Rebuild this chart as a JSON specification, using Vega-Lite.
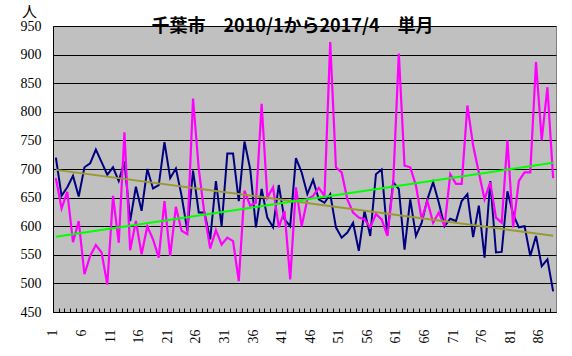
{
  "$schema": "https://vega.github.io/schema/vega-lite/v6.json",
  "width": 503,
  "height": 286,
  "autosize": "none",
  "padding": {"left": 53, "top": 26, "right": 16, "bottom": 44},
  "background": "white",
  "title": {
    "text": "千葉市　2010/1から2017/4　単月",
    "font": "Noto Sans CJK JP",
    "fontSize": 18,
    "fontWeight": "bold",
    "color": "black",
    "anchor": "middle",
    "frame": "group",
    "baseline": "middle",
    "offset": -41,
    "dy": 0,
    "dx": -12
  },
  "data": {
    "values": [
      {"i":1,"s":"A","v":720},{"i":2,"s":"A","v":653},{"i":3,"s":"A","v":668},{"i":4,"s":"A","v":688},{"i":5,"s":"A","v":652},
      {"i":6,"s":"A","v":703},{"i":7,"s":"A","v":710},{"i":8,"s":"A","v":734},{"i":9,"s":"A","v":712},{"i":10,"s":"A","v":690},
      {"i":11,"s":"A","v":703},{"i":12,"s":"A","v":679},{"i":13,"s":"A","v":713},{"i":14,"s":"A","v":609},{"i":15,"s":"A","v":669},
      {"i":16,"s":"A","v":627},{"i":17,"s":"A","v":700},{"i":18,"s":"A","v":666},{"i":19,"s":"A","v":672},{"i":20,"s":"A","v":747},
      {"i":21,"s":"A","v":684},{"i":22,"s":"A","v":701},{"i":23,"s":"A","v":653},{"i":24,"s":"A","v":592},{"i":25,"s":"A","v":697},
      {"i":26,"s":"A","v":624},{"i":27,"s":"A","v":624},{"i":28,"s":"A","v":577},{"i":29,"s":"A","v":679},{"i":30,"s":"A","v":600},
      {"i":31,"s":"A","v":727},{"i":32,"s":"A","v":727},{"i":33,"s":"A","v":644},{"i":34,"s":"A","v":748},{"i":35,"s":"A","v":700},
      {"i":36,"s":"A","v":598},{"i":37,"s":"A","v":665},{"i":38,"s":"A","v":615},{"i":39,"s":"A","v":598},{"i":40,"s":"A","v":672},
      {"i":41,"s":"A","v":612},{"i":42,"s":"A","v":600},{"i":43,"s":"A","v":719},{"i":44,"s":"A","v":694},{"i":45,"s":"A","v":656},
      {"i":46,"s":"A","v":681},{"i":47,"s":"A","v":647},{"i":48,"s":"A","v":641},{"i":49,"s":"A","v":656},{"i":50,"s":"A","v":598},
      {"i":51,"s":"A","v":580},{"i":52,"s":"A","v":589},{"i":53,"s":"A","v":606},{"i":54,"s":"A","v":557},{"i":55,"s":"A","v":627},
      {"i":56,"s":"A","v":583},{"i":57,"s":"A","v":691},{"i":58,"s":"A","v":699},{"i":59,"s":"A","v":585},{"i":60,"s":"A","v":677},
      {"i":61,"s":"A","v":665},{"i":62,"s":"A","v":559},{"i":63,"s":"A","v":647},{"i":64,"s":"A","v":583},{"i":65,"s":"A","v":606},
      {"i":66,"s":"A","v":647},{"i":67,"s":"A","v":677},{"i":68,"s":"A","v":641},{"i":69,"s":"A","v":600},{"i":70,"s":"A","v":613},
      {"i":71,"s":"A","v":609},{"i":72,"s":"A","v":644},{"i":73,"s":"A","v":656},{"i":74,"s":"A","v":581},{"i":75,"s":"A","v":636},
      {"i":76,"s":"A","v":545},{"i":77,"s":"A","v":679},{"i":78,"s":"A","v":554},{"i":79,"s":"A","v":555},{"i":80,"s":"A","v":661},
      {"i":81,"s":"A","v":621},{"i":82,"s":"A","v":598},{"i":83,"s":"A","v":600},{"i":84,"s":"A","v":548},{"i":85,"s":"A","v":583},
      {"i":86,"s":"A","v":530},{"i":87,"s":"A","v":542},{"i":88,"s":"A","v":486},
      {"i":1,"s":"B","v":684},{"i":2,"s":"B","v":631},{"i":3,"s":"B","v":660},{"i":4,"s":"B","v":572},{"i":5,"s":"B","v":609},
      {"i":6,"s":"B","v":516},{"i":7,"s":"B","v":548},{"i":8,"s":"B","v":567},{"i":9,"s":"B","v":554},{"i":10,"s":"B","v":498},
      {"i":11,"s":"B","v":653},{"i":12,"s":"B","v":571},{"i":13,"s":"B","v":764},{"i":14,"s":"B","v":558},{"i":15,"s":"B","v":609},
      {"i":16,"s":"B","v":551},{"i":17,"s":"B","v":600},{"i":18,"s":"B","v":577},{"i":19,"s":"B","v":545},{"i":20,"s":"B","v":644},
      {"i":21,"s":"B","v":548},{"i":22,"s":"B","v":634},{"i":23,"s":"B","v":592},{"i":24,"s":"B","v":586},{"i":25,"s":"B","v":823},
      {"i":26,"s":"B","v":700},{"i":27,"s":"B","v":621},{"i":28,"s":"B","v":561},{"i":29,"s":"B","v":593},{"i":30,"s":"B","v":568},
      {"i":31,"s":"B","v":580},{"i":32,"s":"B","v":574},{"i":33,"s":"B","v":504},{"i":34,"s":"B","v":662},{"i":35,"s":"B","v":636},
      {"i":36,"s":"B","v":641},{"i":37,"s":"B","v":814},{"i":38,"s":"B","v":650},{"i":39,"s":"B","v":668},{"i":40,"s":"B","v":598},
      {"i":41,"s":"B","v":627},{"i":42,"s":"B","v":507},{"i":43,"s":"B","v":668},{"i":44,"s":"B","v":600},{"i":45,"s":"B","v":647},
      {"i":46,"s":"B","v":653},{"i":47,"s":"B","v":667},{"i":48,"s":"B","v":653},{"i":49,"s":"B","v":922},{"i":50,"s":"B","v":703},
      {"i":51,"s":"B","v":694},{"i":52,"s":"B","v":647},{"i":53,"s":"B","v":624},{"i":54,"s":"B","v":615},{"i":55,"s":"B","v":612},
      {"i":56,"s":"B","v":598},{"i":57,"s":"B","v":621},{"i":58,"s":"B","v":612},{"i":59,"s":"B","v":583},{"i":60,"s":"B","v":671},
      {"i":61,"s":"B","v":902},{"i":62,"s":"B","v":706},{"i":63,"s":"B","v":703},{"i":64,"s":"B","v":671},{"i":65,"s":"B","v":612},
      {"i":66,"s":"B","v":644},{"i":67,"s":"B","v":606},{"i":68,"s":"B","v":624},{"i":69,"s":"B","v":600},{"i":70,"s":"B","v":691},
      {"i":71,"s":"B","v":674},{"i":72,"s":"B","v":674},{"i":73,"s":"B","v":811},{"i":74,"s":"B","v":741},{"i":75,"s":"B","v":694},
      {"i":76,"s":"B","v":647},{"i":77,"s":"B","v":677},{"i":78,"s":"B","v":615},{"i":79,"s":"B","v":606},{"i":80,"s":"B","v":750},
      {"i":81,"s":"B","v":598},{"i":82,"s":"B","v":679},{"i":83,"s":"B","v":694},{"i":84,"s":"B","v":694},{"i":85,"s":"B","v":887},
      {"i":86,"s":"B","v":750},{"i":87,"s":"B","v":843},{"i":88,"s":"B","v":684}
    ]
  },
  "encoding": {
    "x": {
      "field": "i",
      "type": "quantitative",
      "scale": {"domain": [0.5, 88.5], "nice": false, "zero": false},
      "axis": {
        "title": null,
        "values": [1,2,3,4,5,6,7,8,9,10,11,12,13,14,15,16,17,18,19,20,21,22,23,24,25,26,27,28,29,30,31,32,33,34,35,36,37,38,39,40,41,42,43,44,45,46,47,48,49,50,51,52,53,54,55,56,57,58,59,60,61,62,63,64,65,66,67,68,69,70,71,72,73,74,75,76,77,78,79,80,81,82,83,84,85,86,87,88],
        "labelExpr": "(datum.value - 1) % 5 == 0 ? datum.label : ''",
        "labelAngle": -90,
        "labelAlign": "right",
        "labelBaseline": "middle",
        "labelFont": "Liberation Serif",
        "labelFontSize": 14,
        "labelColor": "black",
        "labelPadding": 21,
        "labelOverlap": false,
        "labelFlush": false,
        "grid": false,
        "ticks": true,
        "tickSize": -4,
        "tickColor": "black",
        "tickOffset": -2.86,
        "domain": true,
        "domainColor": "black",
        "domainWidth": 1
      }
    },
    "y": {
      "field": "v",
      "type": "quantitative",
      "scale": {"domain": [450, 950], "nice": false, "zero": false},
      "axis": {
        "title": "人",
        "titleAngle": 0,
        "titleX": -24,
        "titleY": -15,
        "titleAlign": "center",
        "titleBaseline": "middle",
        "titleFont": "Noto Sans CJK JP",
        "titleFontSize": 15,
        "titleFontWeight": "normal",
        "titleColor": "black",
        "values": [450,500,550,600,650,700,750,800,850,900,950],
        "labelFont": "Liberation Serif",
        "labelFontSize": 14,
        "labelColor": "black",
        "labelPadding": 12,
        "ticks": false,
        "grid": true,
        "gridColor": "black",
        "gridOpacity": 1,
        "gridWidth": 1,
        "domain": true,
        "domainColor": "black"
      }
    }
  },
  "layer": [
    {
      "transform": [{"filter": "datum.s == 'A'"}],
      "mark": {"type": "line", "color": "#000080", "strokeWidth": 2}
    },
    {
      "transform": [{"filter": "datum.s == 'B'"}],
      "mark": {"type": "line", "color": "#FF00FF", "strokeWidth": 2.2}
    },
    {
      "transform": [{"filter": "datum.s == 'A'"}, {"regression": "v", "on": "i", "extent": [1, 88]}],
      "mark": {"type": "line", "color": "#999933", "strokeWidth": 2}
    },
    {
      "transform": [{"filter": "datum.s == 'B'"}, {"regression": "v", "on": "i", "extent": [1, 88]}],
      "mark": {"type": "line", "color": "#00FF00", "strokeWidth": 2}
    }
  ],
  "config": {
    "view": {"fill": "#C0C0C0", "stroke": "#808080", "strokeWidth": 1}
  }
}
